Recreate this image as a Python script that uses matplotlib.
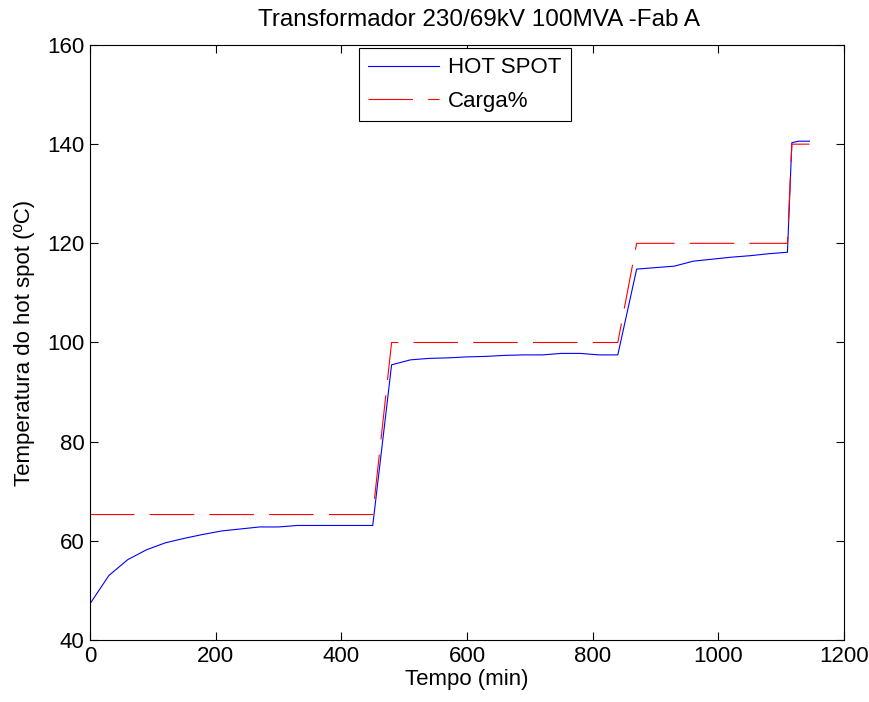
import matplotlib.pyplot as plt
import numpy as np

plt.rcParams['font.family'] = ['Liberation Sans', 'DejaVu Sans']
plt.rcParams['lines.scale_dashes'] = False

# Tempo em minutos
tempo = [0, 30, 60, 90, 120, 150, 180, 210, 240, 270, 300, 330, 360, 390,
         420, 450, 480, 510, 540, 570, 600, 630, 660, 690, 720, 750, 780,
         810, 840, 870, 900, 930, 960, 990, 1020, 1050, 1080, 1110, 1117,
         1128, 1145]

# Temperatura do hot spot (ºC)
hot_spot = [47.3, 53.0, 56.2, 58.2, 59.6, 60.5, 61.3, 62.0, 62.4, 62.8,
            62.8, 63.1, 63.1, 63.1, 63.1, 63.1, 95.5, 96.5, 96.8, 96.9,
            97.1, 97.2, 97.4, 97.5, 97.5, 97.8, 97.8, 97.5, 97.5, 114.8,
            115.1, 115.4, 116.4, 116.8, 117.2, 117.5, 117.9, 118.2, 140.3,
            140.6, 140.6]

# Carga em %
carga = [65.3] * 16 + [100] * 13 + [120] * 9 + [140] * 3

fig = plt.figure(figsize=(8.69, 7.02), dpi=100)
ax = fig.add_axes([90/869, 62/702, 754/869, 595/702])

ax.plot(tempo, hot_spot, color='blue', lw=0.8, label='HOT SPOT')
ax.plot(tempo, carga, color='red', lw=0.8, linestyle='--', dashes=(32, 11),
        label='Carga%')

ax.set_xlim(0, 1200)
ax.set_ylim(40, 160)
ax.set_xticks(np.arange(0, 1201, 200))
ax.set_yticks(np.arange(40, 161, 20))
ax.tick_params(direction='in', top=True, right=True, length=6, width=0.8,
               labelsize=16, pad=4)
for s in ax.spines.values():
    s.set_linewidth(0.8)

ax.set_xlabel('Tempo (min)', fontsize=16, labelpad=2)
ax.set_ylabel('Temperatura do hot spot (ºC)', fontsize=16, labelpad=9)
ax.set_title('Transformador 230/69kV 100MVA -Fab A', fontsize=17.5, pad=14,
             x=0.516)

leg = ax.legend(loc='upper left', bbox_to_anchor=(359/869, 1 - 48/702),
                bbox_transform=fig.transFigure, fontsize=16, fancybox=False,
                framealpha=1, edgecolor='black', handlelength=3.2,
                handletextpad=0.4, borderpad=0.42, labelspacing=0.56,
                borderaxespad=0)
leg.get_frame().set_linewidth(0.8)

fig.savefig('out.png', dpi=100)
